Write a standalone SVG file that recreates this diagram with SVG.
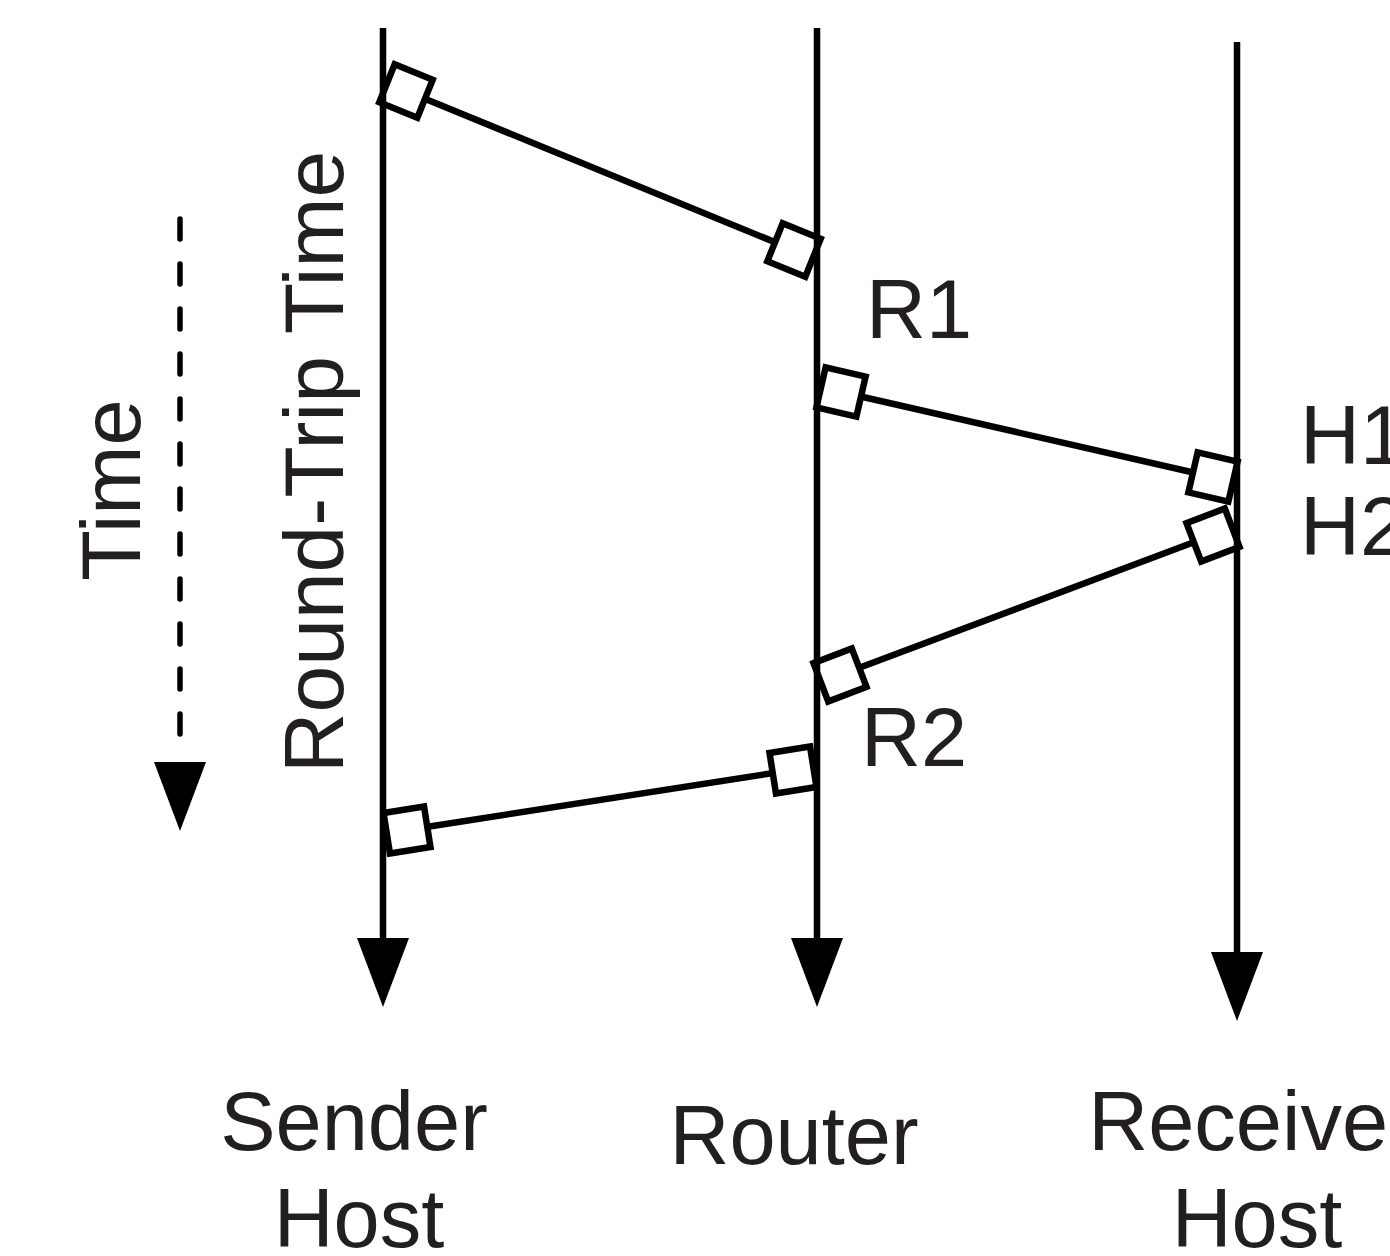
<svg xmlns="http://www.w3.org/2000/svg" width="1390" height="1256" viewBox="0 0 1390 1256">
  <style>
    .bg { fill: #ffffff; }
    .life { stroke: #000; stroke-width: 6.5; fill: none; }
    .msg { stroke: #000; stroke-width: 6.5; fill: none; }
    .pkt { fill: #ffffff; stroke: #000; stroke-width: 6.5; }
    .head { fill: #000; stroke: none; }
    .dash { stroke: #000; stroke-width: 5.5; fill: none; stroke-linecap: round; stroke-dasharray: 20 25; }
    .lbl { font-family: "Liberation Sans", Arial, Helvetica, sans-serif; font-size: 83px; fill: #231f20; }
    .rtt { font-size: 84px; }
  </style>
  <defs>
    <!-- packet marker: square centred on the origin -->
    <rect id="packet" class="pkt" x="-20.5" y="-20.5" width="41" height="41"/>
    <!-- downward arrowhead, tip at origin -->
    <polygon id="arrowDown" class="head" points="-26,-69 26,-69 0,0"/>
  </defs>

  <rect class="bg" x="0" y="0" width="1390" height="1256"/>

  <!-- packet transfers between the lifelines -->
  <g id="connectors">
    <line class="msg" x1="406" y1="91" x2="794" y2="250"/>
    <line class="msg" x1="841" y1="392" x2="1213" y2="477"/>
    <line class="msg" x1="1213" y1="535" x2="840" y2="675"/>
    <line class="msg" x1="793" y1="770" x2="407" y2="830"/>
  </g>

  <!-- packets -->
  <g id="pkt-send"><use href="#packet" transform="translate(406,91) rotate(22)"/></g>
  <g id="pkt-r1-in"><use href="#packet" transform="translate(794,250) rotate(22)"/></g>
  <g id="pkt-r1-out"><use href="#packet" transform="translate(841,392) rotate(13)"/></g>
  <g id="pkt-h1"><use href="#packet" transform="translate(1213,477) rotate(13)"/></g>
  <g id="pkt-h2"><use href="#packet" transform="translate(1213,535) rotate(-21)"/></g>
  <g id="pkt-r2-in"><use href="#packet" transform="translate(840,675) rotate(-21)"/></g>
  <g id="pkt-r2-out"><use href="#packet" transform="translate(793,770) rotate(-9)"/></g>
  <g id="pkt-ack"><use href="#packet" transform="translate(407,830) rotate(-9)"/></g>

  <!-- lifelines -->
  <g id="sender">
    <line class="life" x1="383" y1="28" x2="383" y2="945"/>
    <use href="#arrowDown" transform="translate(383,1007)"/>
    <text class="lbl" x="354" y="1150" text-anchor="middle">Sender</text>
    <text class="lbl" x="359" y="1247" text-anchor="middle">Host</text>
  </g>
  <g id="router">
    <line class="life" x1="817" y1="28" x2="817" y2="945"/>
    <use href="#arrowDown" transform="translate(817,1007)"/>
    <text class="lbl" x="794" y="1164" text-anchor="middle">Router</text>
  </g>
  <g id="receiver">
    <line class="life" x1="1237" y1="42" x2="1237" y2="960"/>
    <use href="#arrowDown" transform="translate(1237,1021)"/>
    <text class="lbl" x="1252" y="1150" text-anchor="middle">Receiver</text>
    <text class="lbl" x="1257" y="1247" text-anchor="middle">Host</text>
  </g>

  <!-- event labels -->
  <g id="labels">
    <text class="lbl" x="866" y="338">R1</text>
    <text class="lbl" x="861" y="766">R2</text>
    <text class="lbl" x="1300" y="464">H1</text>
    <text class="lbl" x="1300" y="555">H2</text>
    <text class="lbl rtt" text-anchor="middle" transform="translate(343,462) rotate(-90)">Round-Trip Time</text>
  </g>

  <!-- time axis -->
  <g id="time-axis">
    <line class="dash" x1="180" y1="219" x2="180" y2="750"/>
    <use href="#arrowDown" transform="translate(180,831)"/>
    <text class="lbl" text-anchor="middle" transform="translate(140,490) rotate(-90)">Time</text>
  </g>
</svg>
